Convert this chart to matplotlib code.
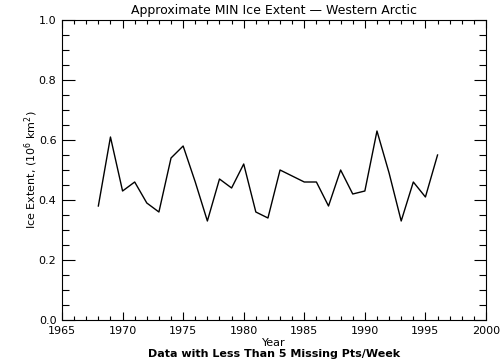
import matplotlib
matplotlib.use("Agg")
import matplotlib.pyplot as plt
from matplotlib.ticker import MultipleLocator

# minimum ice extent, western arctic, one value per year
years = [1968, 1969, 1970, 1971, 1972, 1973, 1974, 1975, 1976, 1977,
         1978, 1979, 1980, 1981, 1982, 1983, 1984, 1985, 1986, 1987,
         1988, 1989, 1990, 1991, 1992, 1993, 1994, 1995, 1996]
extent = [0.38, 0.61, 0.43, 0.46, 0.39, 0.36, 0.54, 0.58, 0.46, 0.33,
          0.47, 0.44, 0.52, 0.36, 0.34, 0.50, 0.48, 0.46, 0.46, 0.38,
          0.50, 0.42, 0.43, 0.63, 0.49, 0.33, 0.46, 0.41, 0.55]

x_ticks = [1965, 1970, 1975, 1980, 1985, 1990, 1995, 2000]
y_ticks = [0.0, 0.2, 0.4, 0.6, 0.8, 1.0]

fig = plt.figure(figsize=(5.04, 3.6), dpi=100)
ax = fig.add_axes([62/504, 1 - 320/360, 424/504, 300/360])

ax.plot(years, extent, '-k', lw=1.0)

ax.set_xlim(1965, 2000)
ax.set_ylim(0.0, 1.0)
ax.set_xticks(x_ticks)
ax.set_yticks(y_ticks)
ax.set_yticklabels(['%.1f' % v for v in y_ticks])
ax.xaxis.set_minor_locator(MultipleLocator(1))
ax.yaxis.set_minor_locator(MultipleLocator(0.05))

ax.tick_params(which='both', direction='in', top=True, right=True,
               labelsize=8, width=0.8, pad=4)
ax.tick_params(axis='x', which='major', length=6)
ax.tick_params(axis='x', which='minor', length=3)
ax.tick_params(axis='y', which='major', length=9)
ax.tick_params(axis='y', which='minor', length=5)
for s in ax.spines.values():
    s.set_linewidth(0.8)

ax.set_title('Approximate MIN Ice Extent \u2014 Western Arctic', fontsize=9, pad=4)
ax.set_xlabel('Year', fontsize=8, labelpad=2)
ax.set_ylabel('Ice Extent, (10$^6$ km$^2$)', fontsize=8)
ax.yaxis.set_label_coords(-22/424, 0.5)

fig.text(274/504, 1 - 354/360, 'Data with Less Than 5 Missing Pts/Week',
         ha='center', va='center', fontsize=8, fontweight='bold')

fig.savefig('out.png', dpi=100)
